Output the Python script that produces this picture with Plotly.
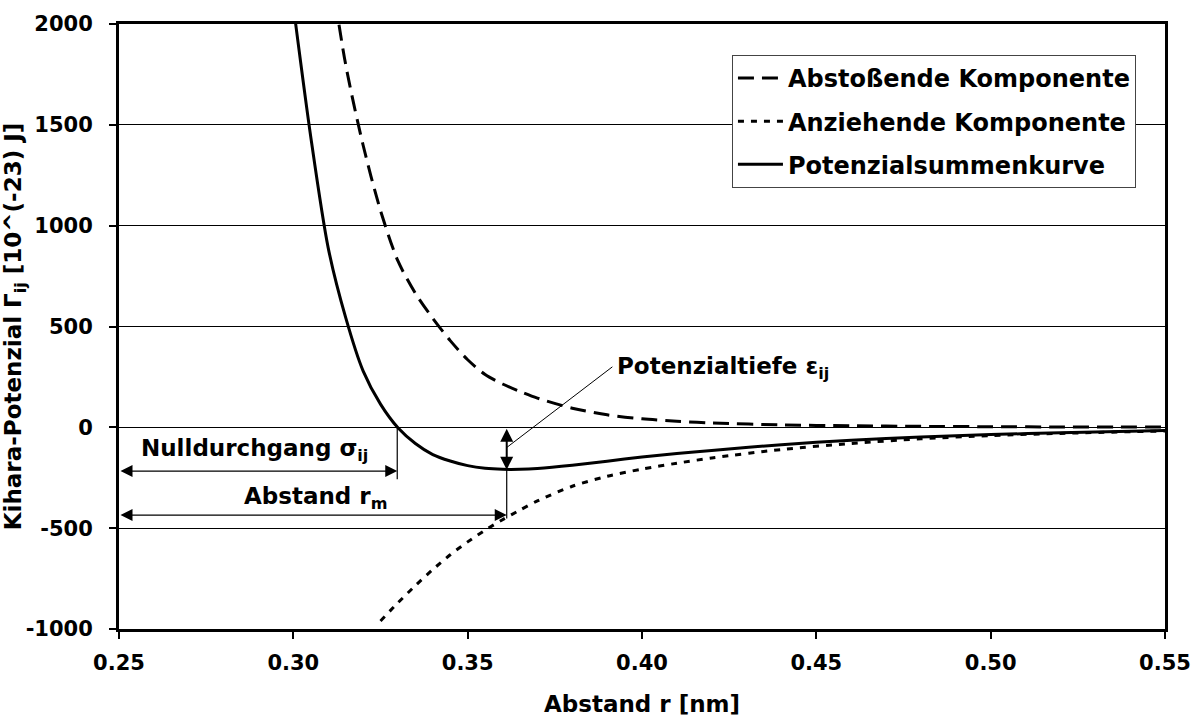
import plotly.graph_objects as go

# ---- data ----
r_sum = [0.300, 0.305, 0.310, 0.315, 0.320, 0.325, 0.330, 0.335, 0.340, 0.345, 0.350,
         0.355, 0.360, 0.365, 0.370, 0.380, 0.390, 0.400, 0.410, 0.420, 0.440, 0.460,
         0.480, 0.500, 0.520, 0.550]
v_sum = [2090, 1440, 890, 545, 280, 115, -2, -80, -135, -167, -190,
         -203, -208, -208, -204, -188, -168, -147, -130, -115, -86, -64,
         -48, -36, -27, -16]

r_rep = [0.310, 0.315, 0.320, 0.325, 0.330, 0.335, 0.340, 0.345, 0.350, 0.355, 0.360,
         0.365, 0.370, 0.380, 0.390, 0.400, 0.410, 0.420, 0.440, 0.460, 0.480, 0.500,
         0.520, 0.550]
v_rep = [2350, 1800, 1400, 1075, 825, 665, 540, 430, 335, 262, 215,
         178, 145, 95, 62, 42, 30, 22, 12, 8, 5, 3,
         2, 1]

r_att = [0.325, 0.330, 0.335, 0.340, 0.345, 0.350, 0.355, 0.360, 0.365, 0.370, 0.380,
         0.390, 0.400, 0.410, 0.420, 0.440, 0.460, 0.480, 0.500, 0.520, 0.550]
v_att = [-960, -870, -785, -705, -632, -568, -510, -458, -410, -365, -292,
         -243, -207, -178, -152, -110, -80, -57, -41, -30, -18]

names = ["Abstoßende Komponente", "Anziehende Komponente", "Potenzialsummenkurve"]

SIGMA = 0.3298      # Nulldurchgang
R_M = 0.3612        # Abstand des Minimums
EPS = -210          # Potenzialtiefe
X_MIN, X_MAX = 0.25, 0.55
Y_MIN, Y_MAX = -1000, 2000
x_ticks = [0.25, 0.30, 0.35, 0.40, 0.45, 0.50, 0.55]
y_ticks = [-1000, -500, 0, 500, 1000, 1500, 2000]

FONT = "DejaVu Sans"
TXT = dict(family=FONT, size=23, color="black", weight="bold")

fig = go.Figure()
fig.add_trace(go.Scatter(x=r_rep, y=v_rep, mode="lines", name=names[0], legendgroup="a",
                         line=dict(color="black", width=3, dash="16px,8px", shape="spline", smoothing=0.8)))
fig.add_trace(go.Scatter(x=r_att, y=v_att, mode="lines", name=names[1], legendgroup="b",
                         line=dict(color="black", width=3, dash="6px,7px", shape="spline", smoothing=0.8)))
fig.add_trace(go.Scatter(x=r_sum, y=v_sum, mode="lines", name=names[2], legendgroup="c",
                         line=dict(color="black", width=3, shape="spline", smoothing=0.8)))

shapes = [
    dict(type="line", xref="x", yref="y", x0=SIGMA, x1=SIGMA, y0=0, y1=-258,
         line=dict(color="black", width=1.2)),
    dict(type="line", xref="x", yref="y", x0=R_M, x1=R_M, y0=EPS, y1=-452,
         line=dict(color="black", width=1.2)),
    dict(type="line", xref="x", yref="y", x0=R_M, x1=0.3915, y0=-100, y1=300,
         line=dict(color="black", width=1)),
]

arrow = dict(xref="x", yref="y", axref="x", ayref="y", text="", showarrow=True,
             arrowhead=2, startarrowhead=2, arrowside="end+start", arrowcolor="black",
             standoff=0, startstandoff=0)

annotations = [
    dict(x=SIGMA, y=-217, ax=X_MIN, ay=-217, arrowsize=2, startarrowsize=2, arrowwidth=1.2, **arrow),
    dict(x=R_M, y=-435, ax=X_MIN, ay=-435, arrowsize=2, startarrowsize=2, arrowwidth=1.2, **arrow),
    dict(x=R_M, y=EPS, ax=R_M, ay=0, arrowsize=1.3, startarrowsize=1.3, arrowwidth=2, **arrow),
    dict(x=0.2557, y=-113, xref="x", yref="y", xanchor="left", yanchor="middle", showarrow=False,
         text="Nulldurchgang σ<sub>ij</sub>", font=TXT),
    dict(x=0.2853, y=-352, xref="x", yref="y", xanchor="left", yanchor="middle", showarrow=False,
         text="Abstand r<sub>m</sub>", font=TXT),
    dict(x=0.3922, y=292, xref="x", yref="y", xanchor="left", yanchor="middle", showarrow=False,
         text="Potenzialtiefe ε<sub>ij</sub>", font=TXT),
]

fig.update_layout(
    width=1200, height=717,
    margin=dict(l=119, r=35, t=24, b=88),
    paper_bgcolor="white", plot_bgcolor="white",
    font=dict(family=FONT, size=21, color="black", weight="bold"),
    shapes=shapes, annotations=annotations,
    legend=dict(x=0.586, y=0.949, xanchor="left", yanchor="top",
                bgcolor="white", bordercolor="#444", borderwidth=1,
                font=dict(family=FONT, size=24, color="black", weight="bold"),
                itemwidth=45, traceorder="grouped", tracegroupgap=9),
    xaxis=dict(range=[X_MIN, X_MAX], tickvals=x_ticks, ticktext=[f"{v:.2f}" for v in x_ticks],
               showline=True, linewidth=3, linecolor="black", mirror=True, automargin=False,
               ticks="outside", ticklen=7, tickwidth=2, tickcolor="black", ticklabelstandoff=6,
               tickfont=dict(family=FONT, size=21, color="black", weight="bold"),
               showgrid=False, zeroline=False,
               title=dict(text="Abstand r [nm]", standoff=22, font=TXT)),
    yaxis=dict(range=[Y_MIN, Y_MAX], tickvals=y_ticks, ticktext=[str(v) for v in y_ticks],
               showline=True, linewidth=3, linecolor="black", mirror=True, automargin=False,
               ticks="outside", ticklen=7, tickwidth=2, tickcolor="black", ticklabelstandoff=12,
               tickfont=dict(family=FONT, size=21, color="black", weight="bold"),
               showgrid=True, gridcolor="black", gridwidth=1, zeroline=False,
               title=dict(text="Kihara-Potenzial Γ<sub>ij</sub> [10^(-23) J]", standoff=8, font=TXT)),
)

fig.write_html("out.html")
